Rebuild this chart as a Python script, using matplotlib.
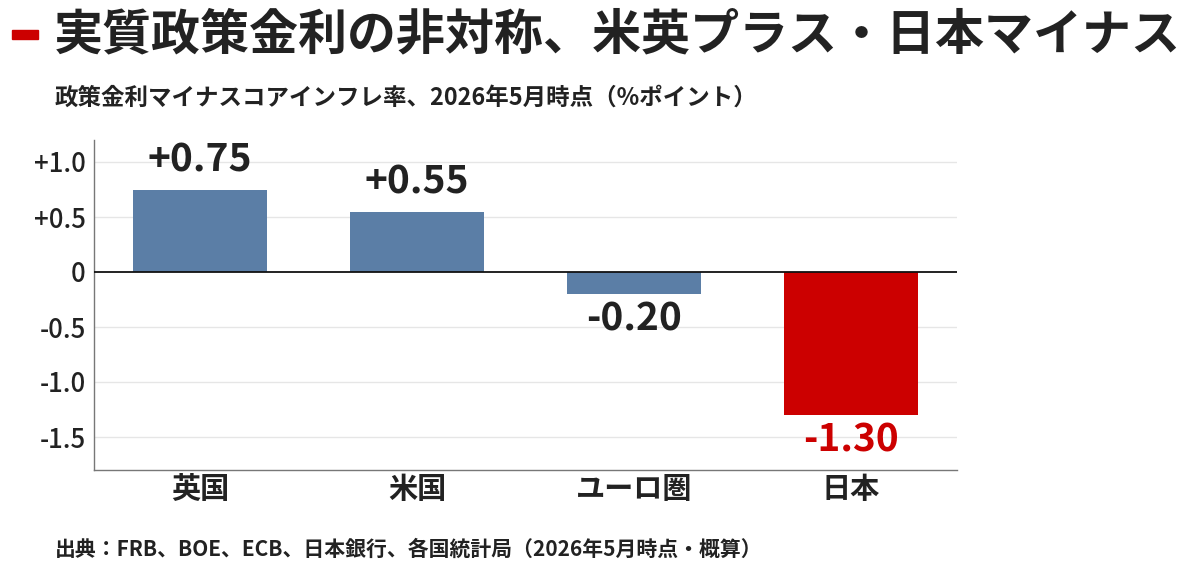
import matplotlib
matplotlib.use("Agg")
import matplotlib.pyplot as plt
from matplotlib.patches import Rectangle

plt.rcParams['font.family'] = ['Noto Sans CJK JP', 'DejaVu Sans']

categories = ["英国", "米国", "ユーロ圏", "日本"]
values = [0.75, 0.55, -0.20, -1.30]
value_labels = ["+0.75", "+0.55", "-0.20", "-1.30"]
yticks = [1.0, 0.5, 0.0, -0.5, -1.0, -1.5]
ytick_labels = ["+1.0", "+0.5", "0", "-0.5", "-1.0", "-1.5"]
colors = ["#5b7ea6", "#5b7ea6", "#5b7ea6", "#cc0000"]
label_colors = ["#222222", "#222222", "#222222", "#cc0000"]

title = "実質政策金利の非対称、米英プラス・日本マイナス"
subtitle = "政策金利マイナスコアインフレ率、2026年5月時点（%ポイント）"
source = "出典：FRB、BOE、ECB、日本銀行、各国統計局（2026年5月時点・概算）"

fig = plt.figure(figsize=(12, 5.74), dpi=100)
ax = fig.add_axes([94/1200, 1-470/574, (957-94)/1200, (470-140)/574])

x = list(range(len(categories)))
ax.bar(x, values, width=0.62, color=colors, zorder=3)
ax.set_xlim(-0.49, 3.49)
ax.set_ylim(-1.8, 1.2)

ax.set_yticks(yticks)
ax.set_yticklabels(ytick_labels, fontsize=18.5, fontweight="medium", color="#222222")
ax.set_xticks(x)
ax.set_xticklabels(categories, fontsize=21, fontweight="bold", color="#222222")
ax.tick_params(axis="both", length=0, pad=6)
ax.tick_params(axis="x", pad=3)

for t in yticks:
    if t != 0:
        ax.axhline(t, color="#e6e6e6", lw=1, zorder=1)
ax.axhline(0, color="#111111", lw=1.3, zorder=4)

for s in ["top", "right"]:
    ax.spines[s].set_visible(False)
for s in ["left", "bottom"]:
    ax.spines[s].set_color("#777777")
    ax.spines[s].set_linewidth(1)

for xi, v, lab, c in zip(x, values, value_labels, label_colors):
    if v >= 0:
        ax.annotate(lab, (xi, v), xytext=(0, 7), textcoords="offset points",
                    ha="center", va="bottom", fontsize=28, fontweight="bold", color=c)
    else:
        ax.annotate(lab, (xi, v), xytext=(0, -4), textcoords="offset points",
                    ha="center", va="top", fontsize=28, fontweight="bold", color=c)

fig.patches.append(Rectangle((12/1200, 1-39/574), 26/1200, 9/574,
                             transform=fig.transFigure, color="#cc0000"))
fig.text(54/1200, 1-35/574, title, fontsize=35.3, fontweight="bold",
         color="#222222", va="center", ha="left")
fig.text(55/1200, 1-98/574, subtitle, fontsize=16.9, fontweight="bold",
         color="#222222", va="center", ha="left")
fig.text(55/1200, 1-549/574, source, fontsize=15, fontweight="bold",
         color="#222222", va="center", ha="left")

fig.savefig("out.png", dpi=100, facecolor="white")
